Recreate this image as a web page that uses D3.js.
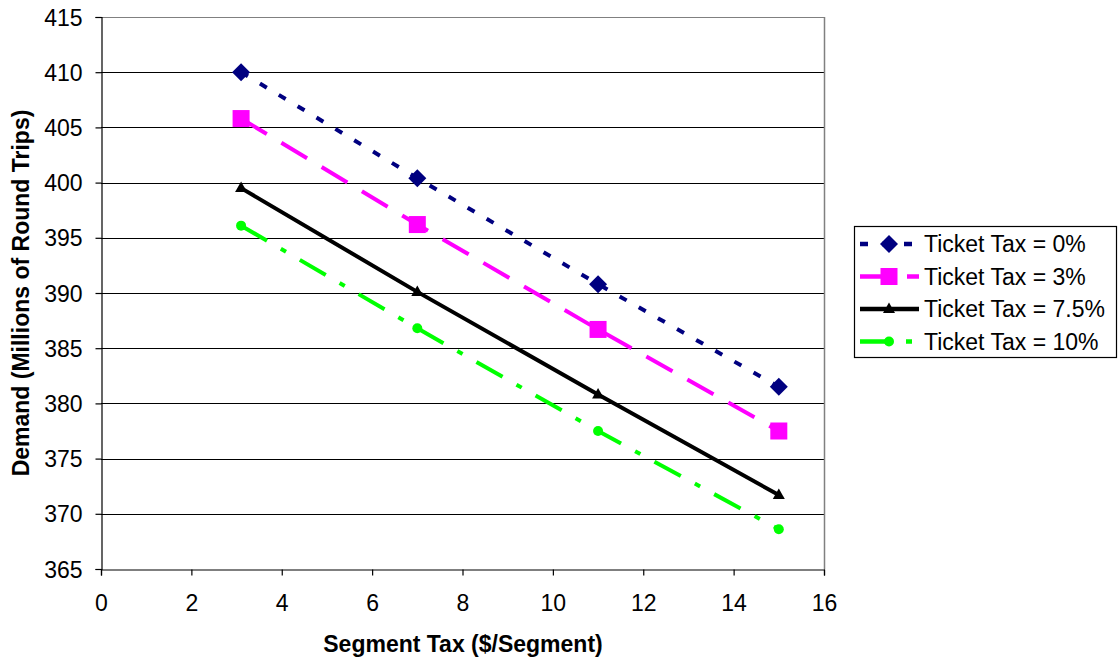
<!DOCTYPE html>
<html>
<head>
<meta charset="utf-8">
<script src="https://cdn.jsdelivr.net/npm/d3@7"></script>
<style>
  html, body { margin: 0; padding: 0; background: #fff; }
  svg { display: block; font-family: "Liberation Sans", Arial, sans-serif; }
</style>
</head>
<body>
<svg id="chart" width="1119" height="663"></svg>
<script>
// Segment tax levels ($/segment)
const segmentTax = [3.1, 7, 11, 15];
// Demand (millions of round trips) per ticket-tax scenario
const tax0 = [410.0, 400.4, 390.8, 381.5];
const tax3 = [405.8, 396.2, 386.7, 377.5];
const tax75 = [399.5, 390.1, 380.8, 371.7];
const tax10 = [396.1, 386.8, 377.5, 368.6];
const seriesNames = ["Ticket Tax = 0%", "Ticket Tax = 3%", "Ticket Tax = 7.5%", "Ticket Tax = 10%"];
const xTicks = [0, 2, 4, 6, 8, 10, 12, 14, 16];
const yTicks = [365, 370, 375, 380, 385, 390, 395, 400, 405, 410, 415];

const styles = [
  { color: "#000080", width: 4, dash: "8,14", marker: "diamond" },
  { color: "#ff00ff", width: 4, dash: "30,17", marker: "square" },
  { color: "#000000", width: 4, dash: null, marker: "triangle" },
  { color: "#00ff00", width: 4, dash: "30,16,6,16", marker: "circle" }
];
const seriesValues = [tax0, tax3, tax75, tax10];

const FS = 23;
const svg = d3.select("#chart");
const plotL = 101, plotR = 824, plotT = 17, plotB = 569;

const x = d3.scaleLinear().domain([0, 16]).range([plotL, plotR]);
const y = d3.scaleLinear().domain([365, 415]).range([plotB, plotT]);

// horizontal gridlines
svg.append("g").selectAll("line").data(yTicks.filter(v => v > 365)).join("line")
  .attr("x1", plotL).attr("x2", plotR)
  .attr("y1", d => Math.round(y(d)) + 0.5).attr("y2", d => Math.round(y(d)) + 0.5)
  .attr("stroke", d => d === 415 ? "#808080" : "#000").attr("stroke-width", 1.2);

// right border of plot area
svg.append("line")
  .attr("x1", plotR + 0.5).attr("x2", plotR + 0.5).attr("y1", plotT).attr("y2", plotB)
  .attr("stroke", "#808080").attr("stroke-width", 1.5);

// axes
const yAxis = d3.axisLeft(y).tickValues(yTicks).tickSize(6).tickPadding(13).tickFormat(d3.format("d"));
const gy = svg.append("g").attr("transform", `translate(${plotL + 0.5},0)`).call(yAxis);
const xAxis = d3.axisBottom(x).tickValues(xTicks).tickSize(6).tickPadding(19).tickFormat(d3.format("d"));
const gx = svg.append("g").attr("transform", `translate(0,${plotB + 0.5})`).call(xAxis);
[gx, gy].forEach(g => {
  g.select(".domain").attr("stroke", "#000").attr("stroke-width", 1.2);
  g.selectAll(".tick line").attr("stroke", "#000").attr("stroke-width", 1.2);
  g.selectAll(".tick text").attr("font-size", FS).attr("fill", "#000")
    .attr("font-family", "Liberation Sans, Arial, sans-serif");
});
gy.selectAll(".tick text").attr("dy", "0.35em");

// axis titles
svg.append("text")
  .attr("x", 463).attr("y", 652)
  .attr("text-anchor", "middle").attr("font-size", FS).attr("font-weight", "bold")
  .text("Segment Tax ($/Segment)");
svg.append("text")
  .attr("transform", `translate(29,${(plotT + plotB) / 2}) rotate(-90)`)
  .attr("text-anchor", "middle").attr("font-size", FS).attr("font-weight", "bold")
  .text("Demand (Millions of Round Trips)");

function drawMarker(g, type, color, cx, cy) {
  if (type === "diamond") {
    g.append("path").attr("d", `M${cx},${cy - 9}L${cx + 9},${cy}L${cx},${cy + 9}L${cx - 9},${cy}Z`).attr("fill", color);
  } else if (type === "square") {
    g.append("rect").attr("x", cx - 8.5).attr("y", cy - 8.5).attr("width", 17).attr("height", 17).attr("fill", color);
  } else if (type === "triangle") {
    g.append("path").attr("d", `M${cx},${cy - 6.5}L${cx + 6},${cy + 4}L${cx - 6},${cy + 4}Z`).attr("fill", color);
  } else {
    g.append("circle").attr("cx", cx).attr("cy", cy).attr("r", 5).attr("fill", color);
  }
}

const line = d3.line().x(d => x(d[0])).y(d => y(d[1]));

seriesValues.forEach((vals, i) => {
  const s = styles[i];
  const pts = segmentTax.map((t, j) => [t, vals[j]]);
  const g = svg.append("g");
  g.append("path").datum(pts).attr("d", line)
    .attr("fill", "none").attr("stroke", s.color).attr("stroke-width", s.width)
    .attr("stroke-dasharray", s.dash);
  pts.forEach(p => drawMarker(g, s.marker, s.color, x(p[0]), y(p[1])));
});

// legend
const lg = svg.append("g");
lg.append("rect").attr("x", 854.5).attr("y", 226.5).attr("width", 262).attr("height", 131)
  .attr("fill", "#fff").attr("stroke", "#000").attr("stroke-width", 1.2);
seriesNames.forEach((name, i) => {
  const s = styles[i];
  const cy = 244 + i * 32.5;
  lg.append("line").attr("x1", 860).attr("x2", 919).attr("y1", cy).attr("y2", cy)
    .attr("stroke", s.color).attr("stroke-width", s.width + 0.5).attr("stroke-dasharray", s.dash);
  drawMarker(lg, s.marker, s.color, 889, cy);
  lg.append("text").attr("x", 924).attr("y", cy).attr("dy", "0.35em")
    .attr("font-size", FS).attr("fill", "#000").text(name);
});
</script>
</body>
</html>
